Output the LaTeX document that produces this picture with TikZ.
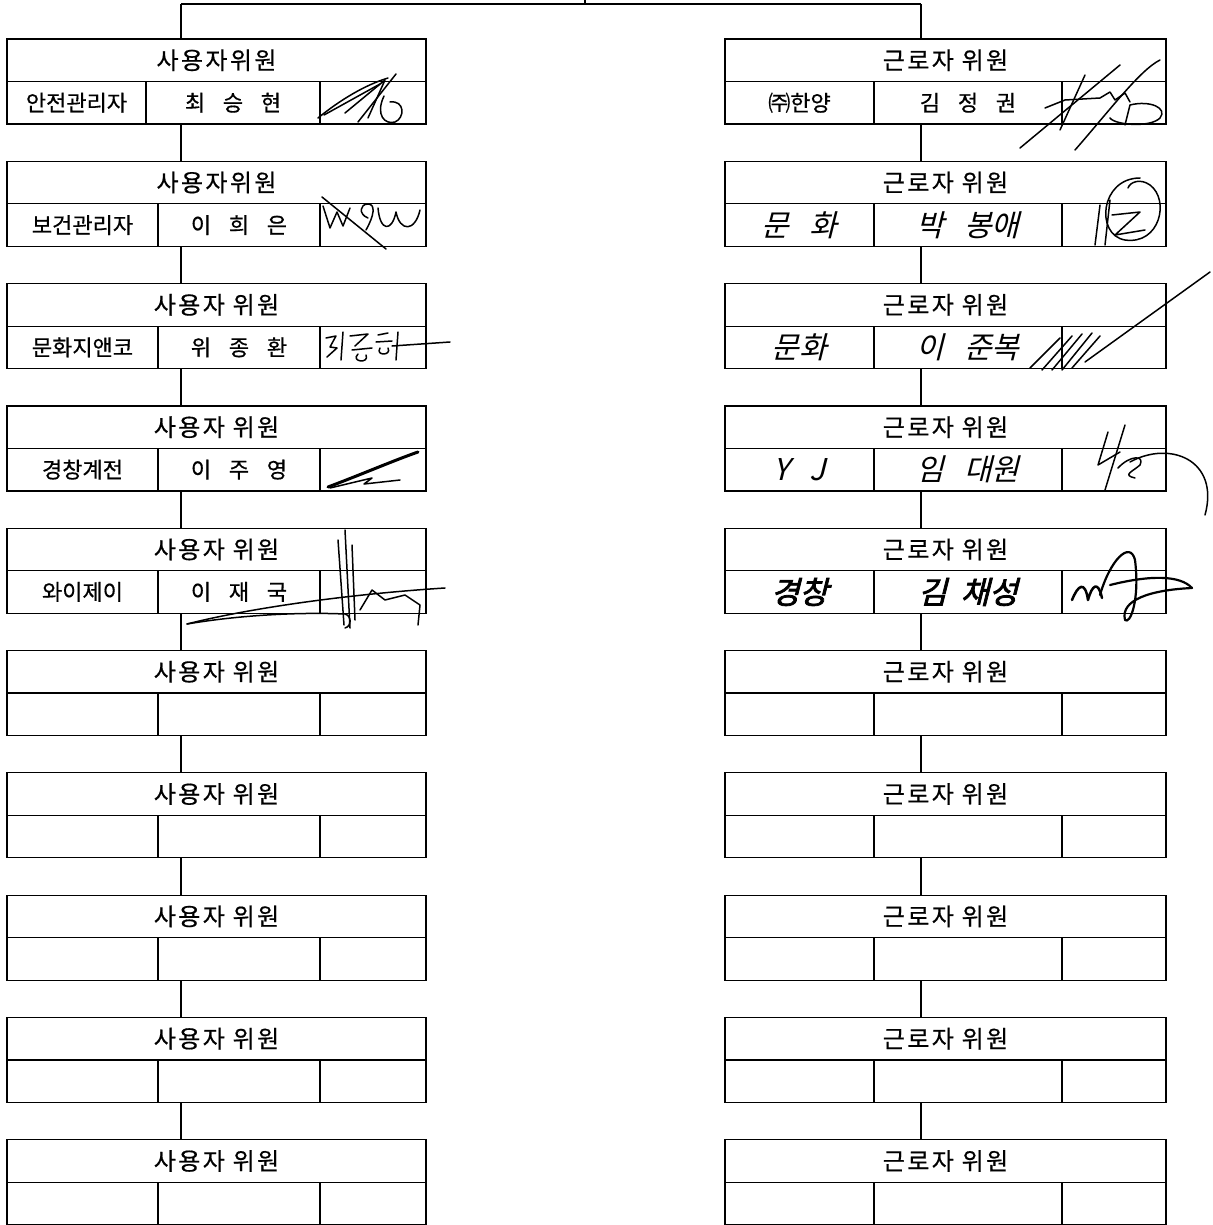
\documentclass[tikz,border=0pt]{standalone}
\usepackage{fontspec}
\setmainfont{Noto Sans CJK KR}
\newfontfamily\headfont{Noto Sans CJK KR}[LetterSpace=10,FakeBold=0.6]
\newfontfamily\namefont{Noto Sans CJK KR}[WordSpace=3.6,FakeBold=0.61]
\newfontfamily\orgfont{Noto Sans CJK KR}[FakeBold=0.6]
\newfontfamily\handfont{Noto Sans CJK KR}[FakeSlant=0.25,WordSpace=3]
\newfontfamily\handboldfont{Noto Sans CJK KR}[FakeSlant=0.25,FakeBold=2.5,WordSpace=2]
\newcommand\scrawl{\handfont\fontsize{30pt}{32pt}\selectfont}
\newcommand\scrawlbold{\handboldfont\fontsize{31pt}{33pt}\selectfont}
\usetikzlibrary{calc}

\begin{document}
\begin{tikzpicture}[x=1pt,y=-1pt,
	cell/.style={draw,line width=1.2pt,inner sep=0pt,outer sep=0pt,minimum height=42.5pt,anchor=north west,font=\orgfont\fontsize{22pt}{26pt}\selectfont},
	headcell/.style={cell,font=\headfont\fontsize{24pt}{28pt}\selectfont},
	link/.style={line width=1.2pt},
	sig/.style={line width=1.5pt,line cap=round,line join=round}]
	\path[fill=white,use as bounding box] (0,0) rectangle (1212,1225);
	
	% employer side
	\foreach \i/\hd/\wa/\org/\nm in {0/사용자위원/139/안전관리자/최 승 현,1/사용자위원/151/보건관리자/이 희 은,2/사용자 위원/151/문화지앤코/위 종 환,3/사용자 위원/151/경창계전/이 주 영,4/사용자 위원/151/와이제이/이 재 국,5/사용자 위원/151//,6/사용자 위원/151//,7/사용자 위원/151//,8/사용자 위원/151//,9/사용자 위원/151//}{
		\pgfmathsetmacro\yt{39+122.3*\i}
		\pgfmathsetmacro\wb{313-\wa}
		\node[headcell,minimum width=419pt] (u\i h) at (7,\yt) {\hd};
		\node[cell,minimum width=\wa pt] (u\i a) at (u\i h.south west) {\org};
		\node[cell,minimum width=\wb pt] (u\i b) at (u\i a.north east) {\namefont\nm};
		\node[cell,minimum width=106pt] (u\i c) at (u\i b.north east) {};
	}
	
	% worker side
	\foreach \i/\org/\nm in {0/㈜한양/김 정 권,1/{\scrawl 문 화}/{\scrawl 박 봉애},2/{\scrawl 문화}/{\scrawl 이 준복},3/{\scrawl Y J}/{\scrawl 임 대원},4/{\scrawlbold 경창}/{\scrawlbold 김 채성},5//,6//,7//,8//,9//}{
		\pgfmathsetmacro\yt{39+122.3*\i}
		\node[headcell,minimum width=441pt] (k\i h) at (725,\yt) {근로자 위원};
		\node[cell,minimum width=149pt] (k\i a) at (k\i h.south west) {\org};
		\node[cell,minimum width=188pt] (k\i b) at (k\i a.north east) {\namefont\nm};
		\node[cell,minimum width=104pt] (k\i c) at (k\i b.north east) {};
	}
	
	\coordinate (root) at (585,0);
	\coordinate (rootfoot) at (585,4);
	\coordinate (lx) at (181,4);
	\coordinate (rx) at (921,4);
	\draw[link] (root) -- (rootfoot);
	\draw[link] (lx) -- (rx);
	\draw[link] (lx) -- (lx |- u0h.north);
	\draw[link] (rx) -- (rx |- k0h.north);
	\foreach \i [count=\j from 1] in {0,...,8}{
		\draw[link] (lx |- u\i c.south) -- (lx |- u\j h.north);
		\draw[link] (rx |- k\i c.south) -- (rx |- k\j h.north);
	}
	
	% signatures
	\draw[sig] (318,118) .. controls (340,100) and (365,85) .. (388,78);
	\draw[sig] (324,115) -- (380,84);
	\draw[sig] (345,113) -- (385,80) -- (368,118);
	\draw[sig] (358,122) -- (396,74);
	\draw[sig] (384,96) .. controls (375,115) and (385,125) .. (395,122) .. controls (405,118) and (405,100) .. (390,102);
	
	\draw[sig] (323,206) -- (330,228) -- (337,212) -- (343,226) -- (350,208);
	\draw[sig] (322,197) -- (386,249);
	\draw[sig] (368,218) .. controls (358,214) and (360,204) .. (368,204) .. controls (376,204) and (374,216) .. (366,230);
	\draw[sig] (378,208) .. controls (380,232) and (392,232) .. (396,212) .. controls (400,232) and (415,232) .. (420,210);
	
	\draw[sig] (326,338) -- (336,336) -- (330,347) -- (337,348) -- (327,357);
	\draw[sig] (343,332) -- (341,360);
	\draw[sig] (350,336) -- (368,334) -- (355,346);
	\draw[sig] (352,350) -- (372,348);
	\draw[sig] (358,354) .. controls (350,362) and (370,364) .. (366,355);
	\draw[sig] (378,335) -- (388,333);
	\draw[sig] (376,342) -- (392,341);
	\draw[sig] (380,348) .. controls (375,356) and (392,356) .. (388,348);
	\draw[sig] (398,332) -- (396,360);
	\draw[sig] (392,346) -- (450,342);
	
	\draw[sig,line width=3pt] (328,487) .. controls (360,475) and (395,460) .. (418,452);
	\draw[sig] (330,488) -- (372,478) -- (364,484) -- (400,480);
	
	\draw[sig] (338,540) -- (344,625);
	\draw[sig] (345,530) -- (350,628);
	\draw[sig] (352,545) -- (355,620);
	\draw[sig] (360,610) -- (372,590) -- (385,600) -- (405,595) -- (420,605) -- (418,625);
	\draw[sig] (187,624) .. controls (250,608) and (350,594) .. (445,588);
	\draw[sig] (187,624) .. controls (240,615) and (300,612) .. (345,614) .. controls (352,616) and (352,626) .. (345,628);
	
	\draw[sig] (1020,148) -- (1120,65);
	\draw[sig] (1075,150) .. controls (1110,110) and (1140,70) .. (1160,60);
	\draw[sig] (1045,108) -- (1065,100) -- (1100,98) -- (1110,92) -- (1115,100) -- (1125,93) -- (1130,102);
	\draw[sig] (1060,130) -- (1085,75);
	\draw[sig] (1110,118) .. controls (1115,125) and (1150,128) .. (1160,118) .. controls (1168,108) and (1150,100) .. (1130,105) -- (1125,125);
	
	\draw[sig] (1140,178) .. controls (1100,178) and (1095,235) .. (1125,240) .. controls (1160,245) and (1170,200) .. (1150,185) .. controls (1140,178) and (1130,182) .. (1128,188);
	\draw[sig] (1100,205) -- (1095,245);
	\draw[sig] (1110,200) -- (1105,245);
	\draw[sig] (1112,215) -- (1140,212) -- (1115,235) -- (1145,230);
	
	\draw[sig] (1030,368) -- (1060,338);
	\draw[sig] (1042,370) -- (1072,336);
	\draw[sig] (1052,370) -- (1082,334);
	\draw[sig] (1062,370) -- (1092,333);
	\draw[sig] (1072,368) -- (1100,336);
	\draw[sig] (1085,362) -- (1210,272);
	
	\draw[sig] (1108,432) -- (1098,465) -- (1120,452);
	\draw[sig] (1125,425) -- (1105,490);
	\draw[sig] (1118,468) .. controls (1130,455) and (1145,455) .. (1140,465) .. controls (1132,472) and (1122,475) .. (1135,478);
	\draw[sig] (1130,462) .. controls (1170,440) and (1220,460) .. (1205,515);
	
	\draw[sig,line width=2.5pt] (1072,600) .. controls (1078,585) and (1085,580) .. (1088,600) .. controls (1092,585) and (1098,580) .. (1102,598);
	\draw[sig,line width=2.2pt] (1100,595) .. controls (1110,560) and (1130,540) .. (1135,560) .. controls (1140,600) and (1130,625) .. (1125,620) .. controls (1120,600) and (1150,590) .. (1192,588) .. controls (1180,575) and (1150,575) .. (1110,585);
\end{tikzpicture}
\end{document}
